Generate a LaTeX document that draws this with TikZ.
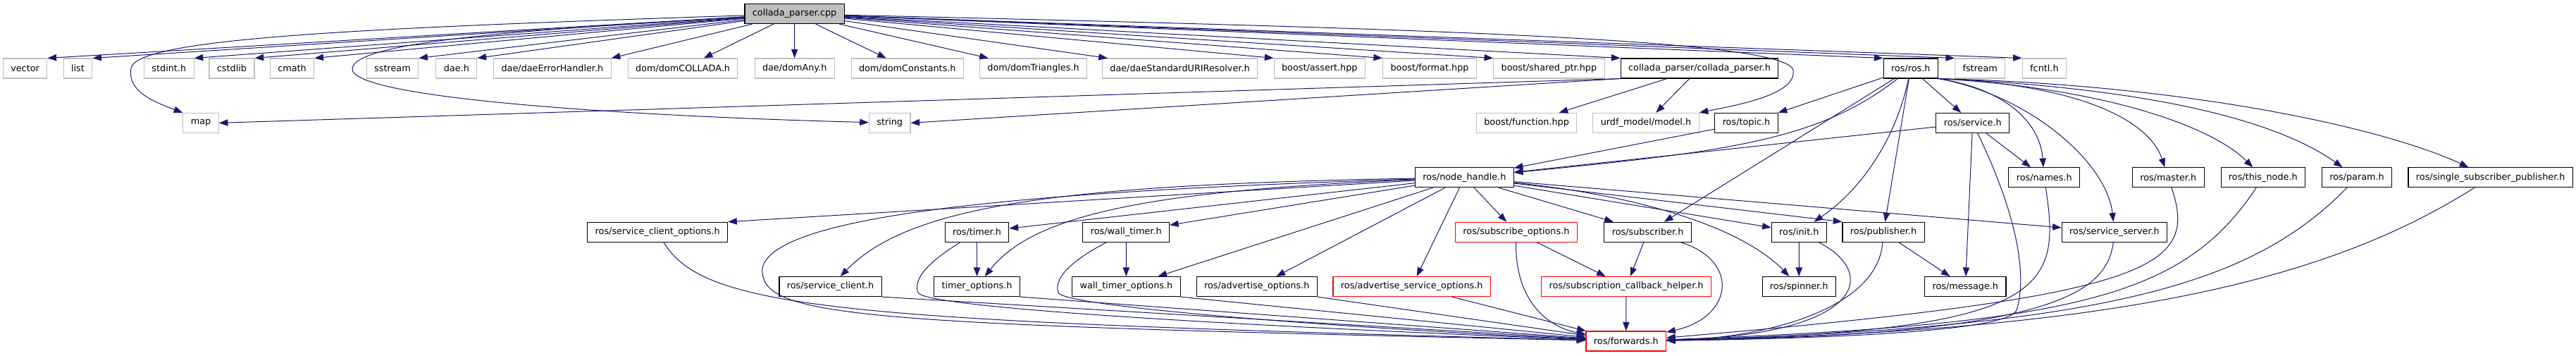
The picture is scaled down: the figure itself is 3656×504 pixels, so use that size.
\documentclass[tikz,border=0pt]{standalone}
\usepackage{fontspec}
\setmainfont{DejaVu Sans}
\usetikzlibrary{arrows.meta}

\begin{document}
\begin{tikzpicture}[x=0.75pt,y=0.75pt,yscale=-1,xscale=1,
  hdr/.style={draw, rectangle, line width=0.8pt, minimum height=21pt, inner xsep=8.2pt, inner ysep=0pt, font=\fontsize{9.6}{11.5}\selectfont},
  sys/.style={hdr, draw={rgb, 255:red, 191; green, 191; blue, 191}},
  loc/.style={hdr, draw={rgb, 255:red, 0; green, 0; blue, 0}},
  bad/.style={hdr, draw={rgb, 255:red, 255; green, 0; blue, 0}},
  root/.style={hdr, draw={rgb, 255:red, 0; green, 0; blue, 0}, fill={rgb, 255:red, 191; green, 191; blue, 191}},
  dep/.style={draw={rgb, 255:red, 25; green, 25; blue, 112}, line width=0.75pt, -{Triangle[length=9.5pt,width=7pt]}}
]
\useasboundingbox (0,0) rectangle (3656,504);

% Text Node
\node [root] (cpp) at (1127.6,19.6) {collada\_parser.cpp};

% Text Node
\node [sys] (vector) at (35.6,97) {vector};
\node [sys] (list) at (110.5,97) {list};
\node [sys] (stdint) at (239.8,97) {stdint.h};
\node [sys] (cstdlib) at (329,97) {cstdlib};
\node [sys] (cmath) at (414.6,97) {cmath};
\node [sys] (sstream) at (557,97) {sstream};
\node [sys] (dae) at (647.9,97) {dae.h};
\node [sys] (daeerr) at (783.9,97) {dae/daeErrorHandler.h};
\node [sys] (domcollada) at (969.1,97) {dom/domCOLLADA.h};
\node [sys] (domany) at (1127.7,97) {dae/domAny.h};
\node [sys] (domconst) at (1287.8,97) {dom/domConstants.h};
\node [sys] (domtri) at (1466.5,97) {dom/domTriangles.h};
\node [sys] (uriresolver) at (1674.5,97) {dae/daeStandardURIResolver.h};
\node [sys] (bassert) at (1872.8,97) {boost/assert.hpp};
\node [sys] (bformat) at (2029,97) {boost/format.hpp};
\node [sys] (bsharedptr) at (2198.4,97) {boost/shared\_ptr.hpp};
\node [loc] (parserh) at (2412,97) {collada\_parser/collada\_parser.h};
\node [loc] (ros) at (2711.8,97) {ros/ros.h};
\node [sys] (fstream) at (2810.2,97) {fstream};
\node [sys] (fcntl) at (2901.4,97) {fcntl.h};

% Text Node
\node [sys] (map) at (285.1,174.4) {map};
\node [sys] (string) at (1262.7,174.4) {string};
\node [sys] (bfunction) at (2166.6,174.4) {boost/function.hpp};
\node [sys] (model) at (2336,174.4) {urdf\_model/model.h};
\node [loc] (topic) at (2478.5,174.4) {ros/topic.h};
\node [loc] (service) at (2799.7,174.4) {ros/service.h};

% Text Node
\node [loc] (nodehandle) at (2078.4,251.8) {ros/node\_handle.h};
\node [loc] (names) at (2901.2,251.8) {ros/names.h};
\node [loc] (master) at (3077.2,251.8) {ros/master.h};
\node [loc] (thisnode) at (3211.8,251.8) {ros/this\_node.h};
\node [loc] (param) at (3345,251.8) {ros/param.h};
\node [loc] (singlepub) at (3534.7,251.8) {ros/single\_subscriber\_publisher.h};

% Text Node
\node [loc] (clientopts) at (933.2,329.2) {ros/service\_client\_options.h};
\node [loc] (timer) at (1386.5,329.2) {ros/timer.h};
\node [loc] (walltimer) at (1598.2,329.2) {ros/wall\_timer.h};
\node [bad] (subopts) at (2151.9,329.2) {ros/subscribe\_options.h};
\node [loc] (subscriber) at (2338.6,329.2) {ros/subscriber.h};
\node [loc] (init) at (2553.3,329.2) {ros/init.h};
\node [loc] (publisher) at (2673,329.2) {ros/publisher.h};
\node [loc] (server) at (3001,329.2) {ros/service\_server.h};

% Text Node
\node [loc] (client) at (1178.6,406.6) {ros/service\_client.h};
\node [loc] (timeropts) at (1386.5,406.6) {timer\_options.h};
\node [loc] (walltimeropts) at (1598.4,406.6) {wall\_timer\_options.h};
\node [loc] (advopts) at (1783.7,406.6) {ros/advertise\_options.h};
\node [bad] (advsrvopts) at (2003.7,406.6) {ros/advertise\_service\_options.h};
\node [bad] (cbhelper) at (2308,406.6) {ros/subscription\_callback\_helper.h};
\node [loc] (spinner) at (2553.2,406.6) {ros/spinner.h};
\node [loc] (message) at (2789.3,406.6) {ros/message.h};

% Text Node
\node [bad] (forwards) at (2307.8,484) {ros/forwards.h};

%Straight Lines
\draw [dep] (cpp) -- (vector.north east);
\draw [dep] (cpp) -- (list.north east);
\draw [dep] (cpp) -- (stdint.north east);
\draw [dep] (cpp) -- (cstdlib.north east);
\draw [dep] (cpp) -- (cmath.north east);
\draw [dep] (cpp) -- (sstream.north east);
\draw [dep] (cpp) -- (dae.north east);
\draw [dep] (cpp) -- (daeerr.north east);
\draw [dep] (cpp) -- (domcollada);
\draw [dep] (cpp) -- (domany);
\draw [dep] (cpp) -- (domconst);
\draw [dep] (cpp) -- (domtri);
\draw [dep] (cpp) -- (uriresolver);
\draw [dep] (cpp) -- (bassert.north west);
\draw [dep] (cpp) -- (bformat.north west);
\draw [dep] (cpp) -- (bsharedptr.north west);
\draw [dep] (cpp) -- (parserh.north west);
\draw [dep] (cpp) -- (ros.north west);
\draw [dep] (cpp) -- (fstream.north west);
\draw [dep] (cpp) -- (fcntl.north west);
\draw [dep] (cpp) .. controls (500,40) and (192,55) .. (186,97) .. controls (180,130) and (220,145) .. (map.north west);
\draw [dep] (cpp) .. controls (800,40) and (505,55) .. (500,97) .. controls (495,140) and (900,165) .. (string);
\draw [dep] (cpp) .. controls (2000,40) and (2540,55) .. (2545,100) .. controls (2550,135) and (2460,150) .. (model.north east);

%Straight Lines
\draw [dep] (parserh.south west) -- (map.east);
\draw [dep] (parserh.south west) -- (string.east);
\draw [dep] (parserh) -- (bfunction);
\draw [dep] (parserh) -- (model);

%Straight Lines
\draw [dep] (ros) -- (topic.north east);
\draw [dep] (ros) .. controls (2580,200) and (2450,215) .. (nodehandle);
\draw [dep] (ros) -- (service);
\draw [dep] (ros) -- (subscriber);
\draw [dep] (ros) .. controls (2690,200) and (2640,270) .. (init);
\draw [dep] (ros) -- (publisher);
\draw [dep] (ros.south east) .. controls (2840,125) and (2895,170) .. (names);
\draw [dep] (ros.south east) .. controls (2880,135) and (2990,230) .. (server);
\draw [dep] (ros.south east) .. controls (2950,120) and (3050,170) .. (master);
\draw [dep] (ros.south east) .. controls (2990,125) and (3140,180) .. (thisnode);
\draw [dep] (ros.south east) .. controls (3050,125) and (3230,170) .. (param);
\draw [dep] (ros.south east) .. controls (3100,120) and (3380,180) .. (singlepub);

%Straight Lines
\draw [dep] (topic) -- (nodehandle);
\draw [dep] (service) -- (nodehandle);
\draw [dep] (service) -- (names);
\draw [dep] (service) -- (message);
\draw [dep] (service) .. controls (2870,320) and (2875,400) .. (2862,440) .. controls (2850,470) and (2600,480) .. (forwards);

%Straight Lines
\draw [dep] (nodehandle) -- (clientopts.north east);
\draw [dep] (nodehandle) -- (timer);
\draw [dep] (nodehandle) -- (walltimer);
\draw [dep] (nodehandle) .. controls (1500,262) and (1290,292) .. (client);
\draw [dep] (nodehandle) .. controls (1650,270) and (1470,300) .. (timeropts);
\draw [dep] (nodehandle) -- (walltimeropts);
\draw [dep] (nodehandle) -- (advopts);
\draw [dep] (nodehandle) -- (advsrvopts);
\draw [dep] (nodehandle) -- (subopts);
\draw [dep] (nodehandle) -- (subscriber);
\draw [dep] (nodehandle) -- (init);
\draw [dep] (nodehandle) -- (publisher.north west);
\draw [dep] (nodehandle) -- (server);
\draw [dep] (nodehandle) .. controls (2350,280) and (2480,330) .. (spinner);
\draw [dep] (nodehandle) .. controls (1500,270) and (1100,300) .. (1082,380) .. controls (1078,450) and (1200,460) .. (forwards);

%Straight Lines
\draw [dep] (clientopts) .. controls (1000,440) and (1200,455) .. (forwards);
\draw [dep] (client.south east) -- (forwards);
\draw [dep] (timer) -- (timeropts);
\draw [dep] (timer) .. controls (1320,370) and (1295,395) .. (1303,415) .. controls (1310,435) and (1700,460) .. (forwards);
\draw [dep] (timeropts.south east) -- (forwards);
\draw [dep] (walltimer) -- (walltimeropts);
\draw [dep] (walltimer) .. controls (1520,370) and (1495,395) .. (1502,415) .. controls (1508,435) and (1900,465) .. (forwards);
\draw [dep] (walltimeropts.south east) -- (forwards);
\draw [dep] (advopts.south east) -- (forwards);
\draw [dep] (advsrvopts) -- (forwards);
\draw [dep] (subopts) -- (cbhelper);
\draw [dep] (subopts) .. controls (2150,430) and (2200,465) .. (forwards);
\draw [dep] (subscriber) -- (cbhelper);
\draw [dep] (subscriber) .. controls (2470,370) and (2460,450) .. (forwards);
\draw [dep] (cbhelper) -- (forwards);

%Straight Lines
\draw [dep] (init) -- (spinner);
\draw [dep] (init) .. controls (2670,390) and (2640,475) .. (forwards);
\draw [dep] (publisher) -- (message);
\draw [dep] (publisher) .. controls (2665,440) and (2500,480) .. (forwards);
\draw [dep] (names) .. controls (2925,410) and (2910,470) .. (forwards);
\draw [dep] (server) .. controls (2990,420) and (2900,475) .. (forwards);
\draw [dep] (master) .. controls (3120,380) and (3060,420) .. (forwards);
\draw [dep] (thisnode) .. controls (3100,420) and (2950,460) .. (forwards);
\draw [dep] (param) .. controls (3200,400) and (3000,465) .. (forwards);
\draw [dep] (singlepub) .. controls (3300,400) and (3000,470) .. (forwards);

\end{tikzpicture}
\end{document}
